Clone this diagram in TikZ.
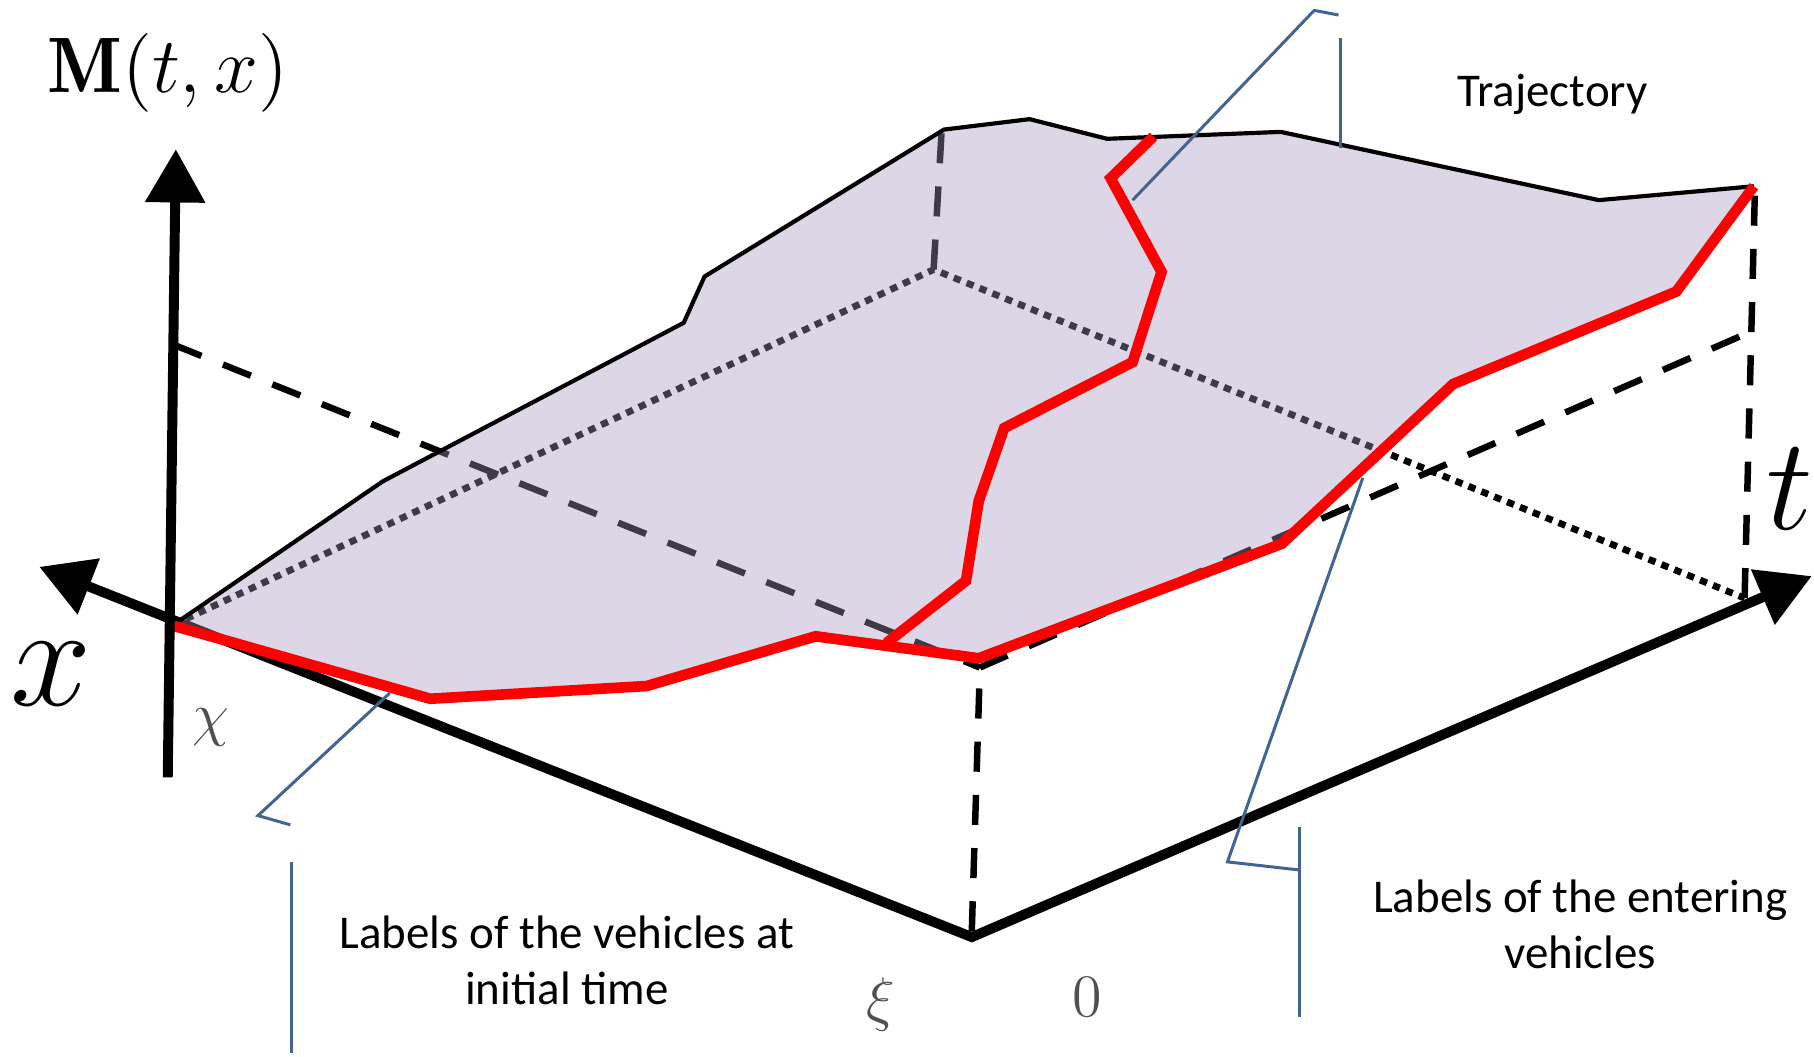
\documentclass[tikz,border=0pt]{standalone}
\usepackage{fontspec}
\newfontfamily\calibri{Carlito}
\DeclareFontShape{OT1}{cmr}{m}{n}{<-8.5>cmr8 <8.5-11>cmr10 <11->cmr12}{}
\DeclareFontShape{OT1}{cmr}{bx}{n}{<-11>cmbx10 <11->cmbx12}{}
\DeclareFontShape{OML}{cmm}{m}{it}{<-11>cmmi10 <11->cmmi12}{}
\DeclareFontShape{OMS}{cmsy}{m}{n}{<->cmsy10}{}
\DeclareFontShape{OMX}{cmex}{m}{n}{<->cmex10}{}
\usetikzlibrary{arrows.meta}
\definecolor{surf}{RGB}{165,149,192}
\definecolor{callout}{RGB}{65,100,145}
\definecolor{lblgray}{RGB}{80,80,80}
\tikzset{
  axtip/.tip={Triangle[length=23pt,width=25pt]},
  axisline/.style={line width=4.3pt, line join=miter},
  dashline/.style={line width=2.8pt, dash pattern=on 13pt off 10pt},
  dotline/.style={line width=2.9pt, dash pattern=on 3.2pt off 2.8pt},
  redline/.style={red, line width=4.6pt, line join=miter},
  edgeline/.style={line width=1.8pt, line join=miter},
  leader/.style={callout, line width=1.3pt},
  txt/.style={font=\calibri\fontsize{20.3pt}{24.5pt}\selectfont, align=center, inner sep=0pt},
  mlab/.style={inner sep=0pt},
}
\begin{document}
\begin{tikzpicture}[x=0.5pt,y=-0.5pt]
\useasboundingbox (0,0) rectangle (1568,913);

% key points
\coordinate (O) at (840,810);
\coordinate (X) at (150,540);
\coordinate (F) at (807,233);
\coordinate (T) at (1508,517);
\coordinate (Xp) at (150,298);
\coordinate (Op) at (847,577);
\coordinate (Tp) at (1515,286);
\coordinate (Ftop) at (814,112);
\coordinate (Ttop) at (1517,161);
\coordinate (Obot) at (840,805);
\coordinate (xtip) at (34,490);
\coordinate (ttip) at (1566,498);
\coordinate (Mbot) at (145,672);
\coordinate (Mtip) at (152,129);

% base plane (dotted)
\draw[dotline] (X) -- (F) -- (T);
% upper plane and verticals (dashed)
\draw[dashline] (Xp) -- (Op);
\draw[dashline] (Op) -- (Tp);
\draw[dashline] (F) -- (Ftop);
\draw[dashline] (T) -- (Ttop);
\draw[dashline] (Obot) -- (Op);

% x and t axes
\draw[axisline, axtip-axtip] (xtip) -- (O) -- (ttip);

% surface
\fill[surf, fill opacity=0.39]
  (150,540) -- (331,416) -- (591,279) -- (609,239) -- (816,112) -- (890,103)
  -- (957,120) -- (1107,114) -- (1382,173) -- (1516,161)
  -- (1449,252) -- (1256,332) -- (1108,470) -- (846,569) -- (705,550)
  -- (559,593) -- (372,604) -- (200,555) -- cycle;

% top edge of the surface
\draw[edgeline] (150,540) -- (331,416) -- (591,279) -- (609,239) -- (816,112)
  -- (890,103) -- (957,120) -- (1107,114) -- (1382,173) -- (1516,161);

% red boundary
\draw[redline] (150,541) -- (200,555) -- (372,604) -- (559,593) -- (705,550)
  -- (846,569) -- (1108,470) -- (1256,332) -- (1449,252) -- (1516,161);
% red trajectory
\draw[redline] (997,118) -- (960,154) -- (1004,235) -- (979,313) -- (868,370)
  -- (846,433) -- (835,502) -- (766,556);

% vertical axis
\draw[axisline, -axtip] (Mbot) -- (Mtip);

% labels
\node[mlab] (Mlab) at (145,63) {\fontsize{34pt}{40pt}\selectfont $\mathbf{M}(t,x)$};
\node[mlab] (xlab) at (44,583) {\fontsize{63pt}{66pt}\selectfont $x$};
\node[mlab] (tlab) at (1547,423) {\fontsize{57pt}{60pt}\selectfont $t$};
\node[mlab, text=lblgray] (chilab) at (182,629) {\fontsize{26pt}{30pt}\selectfont $\chi$};
\node[mlab, text=lblgray] (xilab) at (761,868) {\fontsize{26pt}{30pt}\selectfont $\xi$};
\node[mlab, text=lblgray] (zerolab) at (940,862) {\fontsize{26pt}{30pt}\selectfont $0$};

\node[txt] (traj) at (1342,82) {Trajectory};
\node[txt] (init) at (490,830) {Labels of the vehicles at\\initial time};
\node[txt] (enter) at (1366,799) {Labels of the entering\\vehicles};

% callouts
\coordinate (trA) at (979,173);
\coordinate (trB) at (1136,9);
\coordinate (trC) at (1157,13);
\coordinate (trBarT) at (1159,33);
\coordinate (trBarB) at (1159,128);
\draw[leader] (trA) -- (trB) -- (trC);
\draw[leader] (trBarT) -- (trBarB);

\coordinate (inA) at (337,599);
\coordinate (inB) at (223,705);
\coordinate (inC) at (251,713);
\coordinate (inBarT) at (252,745);
\coordinate (inBarB) at (252,910);
\draw[leader] (inA) -- (inB) -- (inC);
\draw[leader] (inBarT) -- (inBarB);

\coordinate (enA) at (1178,413);
\coordinate (enB) at (1061,745);
\coordinate (enC) at (1123,752);
\coordinate (enBarT) at (1123,715);
\coordinate (enBarB) at (1123,879);
\draw[leader] (enA) -- (enB) -- (enC);
\draw[leader] (enBarT) -- (enBarB);
\end{tikzpicture}
\end{document}
